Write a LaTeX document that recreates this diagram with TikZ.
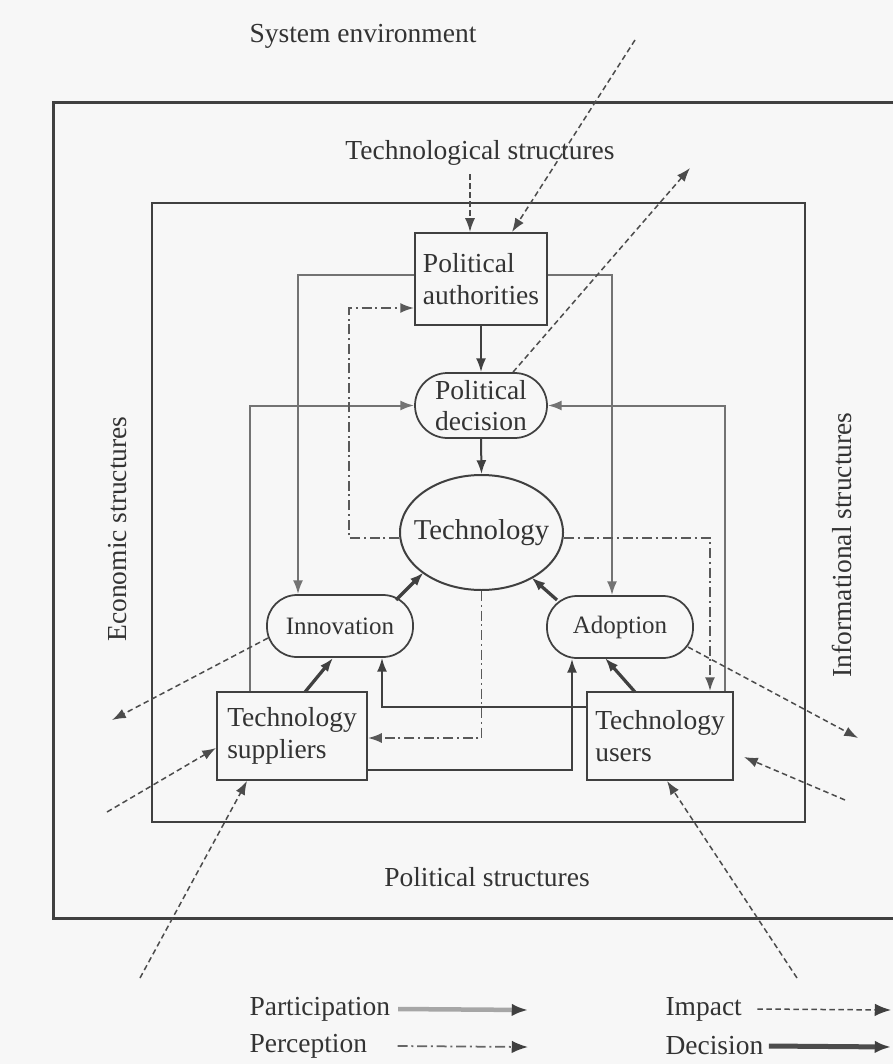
\documentclass[tikz,border=0pt]{standalone}
\usepackage{fontspec}
\setmainfont{Liberation Serif}
\usetikzlibrary{arrows.meta,shapes.geometric}
\begin{document}
\begin{tikzpicture}[x=0.4pt,y=-0.4pt,
  font=\fontsize{11}{12.5}\selectfont,
  every node/.style={text=black!80},
  frame/.style={draw=black!75,line width=1.2pt},
  box/.style={draw=black!75,line width=0.8pt,rectangle,inner sep=0pt,align=left},
  stad/.style={draw=black!75,line width=0.7pt,rectangle,rounded corners=12pt,inner sep=0pt,align=center},
  tip/.style={-{Latex[length=5.5pt,width=4pt]}},
  part/.style={tip,draw=black!55,line width=0.8pt},
  dec/.style={tip,draw=black!75,line width=0.8pt},
  heavy/.style={tip,draw=black!75,line width=1.3pt},
  perc/.style={tip,draw=black!65,line width=0.7pt,dash pattern=on 4pt off 1.5pt on 0.8pt off 1.5pt},
  impact/.style={tip,draw=black!70,line width=0.6pt,dash pattern=on 2.2pt off 1.4pt},
  legend/.style={anchor=west,inner sep=0pt},
  legtip/.style={-{Latex[length=6.5pt,width=5pt,color=black!75]}},
]
\fill[black!3] (0,0) rectangle (893,1064);
\useasboundingbox (0,0) rectangle (893,1064);

% frames
\draw[frame] (893,103) -- (53,103) -- (53,918) -- (893,918);
\draw[frame,line width=1pt] (152,203) rectangle (805,822);

% structure labels
\node (se) at (363,36) {System environment};
\node (ts) at (480,153) {Technological structures};
\node[rotate=90] (es) at (118,529) {Economic structures};
\node[rotate=90] (is) at (842,545) {Informational structures};
\node (ps) at (487,877) {Political structures};

% main nodes
\node[box,minimum width=52.8pt,minimum height=36.8pt] (pa) at (481,279) {Political\\authorities};
\node[stad,minimum width=52.8pt,minimum height=26pt,rounded corners=13pt] (pd) at (481,405.5) {Political\\decision};
\node[ellipse,draw=black!75,line width=0.8pt,inner sep=0pt,minimum width=65.2pt,minimum height=46pt,font=\fontsize{11.5}{13}\selectfont] (tech) at (481.5,532.5) {\makebox[0pt]{Technology}};
\node[stad,minimum width=58.4pt,minimum height=24.8pt,font=\fontsize{10}{11}\selectfont] (inn) at (340,626) {Innovation};
\node[stad,minimum width=58.4pt,minimum height=24.8pt,font=\fontsize{10}{11}\selectfont] (adp) at (620,627) {Adoption};
\node[box,minimum width=60pt,minimum height=35.2pt] (sup) at (292,736) {Technology\\suppliers};
\node[box,minimum width=58.4pt,minimum height=35.2pt] (usr) at (660,736) {Technology\\users};

% participation / decision connectors
\draw[part] ([yshift=1.6pt]pa.west) -| ([xshift=-16.8pt]inn.north);
\draw[part] ([yshift=1.6pt]pa.east) -| ([xshift=-3.2pt]adp.north);
\draw[dec] (pa.south) -- (pd.north);
\draw[dec] (pd.south) -- (tech.north);
\draw[part] ([xshift=-16.8pt]sup.north) |- (pd.west);
\draw[part] ([xshift=26pt]usr.north) |- (pd.east);
\draw[dec] ([yshift=11.6pt]usr.west) -| ([xshift=16.8pt]inn.south);
\draw[dec] ([yshift=-13.6pt]sup.east) -| ([xshift=-19.2pt]adp.south);
\draw[heavy] ([shift={(56,-26)}]inn.center) -- ([shift={(-58,40)}]tech.center);
\draw[heavy] ([shift={(-63,-27)}]adp.center) -- ([shift={(50,45)}]tech.center);
\draw[heavy] ([shift={(13,-44)}]sup.center) -- ([shift={(-7,32)}]inn.center);
\draw[heavy] ([shift={(-25,-44)}]usr.center) -- ([shift={(-15,31)}]adp.center);

% perception connectors
\draw[perc] ([yshift=-2.2pt]tech.west) -- ++(-50,0) |- ([yshift=-11.6pt]pa.west);
\draw[perc] ([yshift=-2.2pt]tech.east) -| ([xshift=20pt]usr.north);
\draw[perc] (tech.south) |- ([yshift=-0.8pt]sup.east);

% impact connectors
\coordinate (top1) at (635,40);
\draw[impact] (top1) -- ([xshift=12.4pt]pa.north);
\draw[impact] ([xshift=-4pt]ts.south) -- ([xshift=-4.4pt]pa.north);
\coordinate (out1) at (690,168);
\draw[impact] ([xshift=12.8pt]pd.north) -- (out1);
\coordinate (out2) at (112,720);
\draw[impact] ([shift={(-72,12)}]inn.center) -- (out2);
\coordinate (in1) at (107,812);
\draw[impact] (in1) -- ([yshift=-4.8pt]sup.west);
\coordinate (in2) at (140,978);
\draw[impact] (in2) -- ([xshift=-18pt]sup.south);
\coordinate (out3) at (858,738);
\draw[impact] ([shift={(68,20)}]adp.center) -- (out3);
\coordinate (in3) at (845,800);
\draw[impact] (in3) -- ([xshift=4pt,yshift=-8.4pt]usr.east);
\coordinate (in4) at (797,978);
\draw[impact] (in4) -- ([xshift=2.8pt]usr.south);

% legend
\node[legend] (lpa) at (249,1009) {Participation};
\node[legend] (lpe) at (249,1046) {Perception};
\node[legend] (lim) at (665,1009) {Impact};
\node[legend] (lde) at (665,1046) {Decision};
\coordinate (lpaE) at (528,1010);
\coordinate (lpeE) at (528,1047);
\coordinate (limE) at (891,1010);
\coordinate (ldeE) at (891,1047);
\draw[legtip,draw=black!35,line width=1.8pt] ([xshift=3pt]lpa.east) -- (lpaE);
\draw[legtip,draw=black!60,line width=0.7pt,dash pattern=on 4pt off 1.5pt on 0.8pt off 1.5pt] ([xshift=12pt]lpe.east) -- (lpeE);
\draw[legtip,draw=black!70,line width=0.6pt,dash pattern=on 2.2pt off 1.4pt] ([xshift=6pt]lim.east) -- (limE);
\draw[legtip,draw=black!70,line width=2pt] ([xshift=2pt]lde.east) -- (ldeE);
\end{tikzpicture}
\end{document}
